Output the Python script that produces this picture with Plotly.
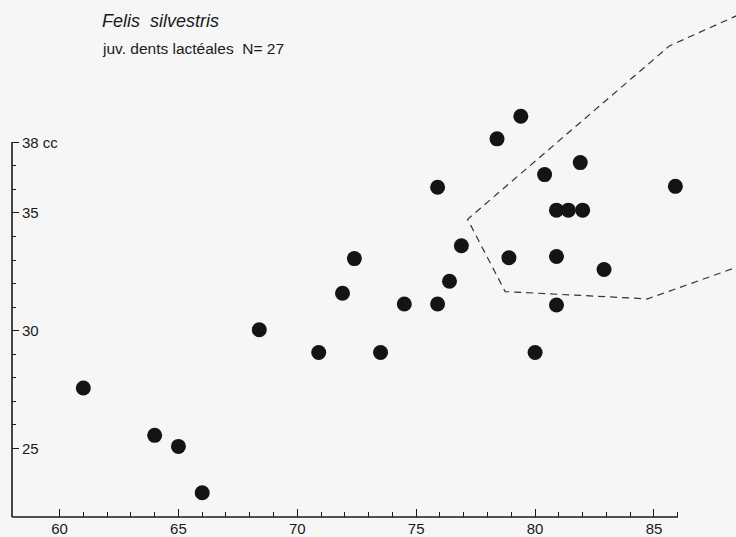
import plotly.graph_objects as go

# --- data ---
x_vals = [61.0, 64.0, 65.0, 66.0, 68.4, 70.9, 71.9, 72.4, 73.5, 74.5, 75.9, 75.9, 76.4, 76.9,
          78.4, 79.4, 78.9, 80.0, 80.4, 80.9, 81.4, 82.0, 80.9, 80.9, 81.9, 82.9, 85.9]
y_vals = [27.56, 25.55, 25.08, 23.11, 30.04, 29.07, 31.59, 33.06, 29.07, 31.13, 36.09, 31.13, 32.1, 33.61,
          38.15, 39.11, 33.1, 29.07, 36.63, 35.12, 35.12, 35.12, 33.15, 31.09, 37.14, 32.6, 36.13]

hull_x = [89.0, 85.65, 77.16, 78.74, 84.73, 89.0]
hull_y = [43.62, 42.1, 34.73, 31.66, 31.35, 32.88]

x_major = [60, 65, 70, 75, 80, 85]
x_minor = [61, 62, 63, 64, 66, 67, 68, 69, 71, 72, 73, 74, 76, 77, 78, 79, 81, 82, 83, 84, 86]
y_major = [25, 30, 35, 38]
y_major_text = ["25", "30", "35", "38 cc"]
y_minor = [26, 27, 28, 29, 31, 32, 33, 34, 36, 37]

x_range = [58.0, 88.45]
y_range = [22.08, 44.05]
x_axis_end = 86
y_axis_end = 38

title = "<i>Felis  silvestris</i>"
subtitle = "juv. dents lactéales  N= 27"

bg = "#f6f6f6"
ink = "#1a1a1a"
font = "Liberation Sans"

fig = go.Figure()
fig.add_trace(go.Scatter(x=hull_x, y=hull_y, mode="lines",
                         line=dict(color="#333333", width=1.2, dash="7px,5px"),
                         hoverinfo="skip", showlegend=False))
fig.add_trace(go.Scatter(x=x_vals, y=y_vals, mode="markers",
                         marker=dict(size=15, color="#141414", line=dict(width=0)),
                         cliponaxis=False, showlegend=False))

fx = (x_axis_end - x_range[0]) / (x_range[1] - x_range[0])
fy = (y_axis_end - y_range[0]) / (y_range[1] - y_range[0])
shapes = [
    dict(type="line", xref="paper", yref="paper", x0=0, x1=fx, y0=0, y1=0,
         line=dict(color=ink, width=1.6)),
    dict(type="line", xref="paper", yref="paper", x0=0, x1=0, y0=0, y1=fy,
         line=dict(color=ink, width=1.6)),
]

plot_h = 537 - 14

fig.update_layout(
    width=736, height=537,
    margin=dict(l=12, r=0, t=0, b=14),
    paper_bgcolor=bg, plot_bgcolor=bg,
    font=dict(family=font, color=ink, size=15),
    shapes=shapes,
    xaxis=dict(range=x_range, showgrid=False, zeroline=False, showline=False,
               tickmode="array", tickvals=x_major, ticks="inside", ticklen=8,
               tickwidth=1.2, tickcolor=ink, tickfont=dict(size=15, family=font, color=ink),
               ticklabelstandoff=1,
               minor=dict(tickmode="array", tickvals=x_minor, ticks="inside", ticklen=5,
                          tickwidth=1.1, tickcolor=ink, showgrid=False)),
    yaxis=dict(range=y_range, showgrid=False, zeroline=False, showline=False,
               tickmode="array", tickvals=y_major, ticktext=y_major_text,
               ticks="inside", ticklen=7, tickwidth=1.2, tickcolor=ink,
               ticklabelposition="inside", ticklabelstandoff=3,
               tickfont=dict(size=15, family=font, color=ink),
               minor=dict(tickmode="array", tickvals=y_minor, ticks="inside", ticklen=4,
                          tickwidth=1.1, tickcolor=ink, showgrid=False)),
    annotations=[
        dict(text=title, xref="paper", yref="paper", x=(100 - 12) / 724, y=(plot_h - 21) / plot_h,
             xanchor="left", yanchor="middle", showarrow=False,
             font=dict(size=18, family=font, color=ink)),
        dict(text=subtitle, xref="paper", yref="paper", x=(100 - 12) / 724, y=(plot_h - 49) / plot_h,
             xanchor="left", yanchor="middle", showarrow=False,
             font=dict(size=15.5, family=font, color=ink)),
    ],
)

fig.write_html("out.html", config={"displayModeBar": False},
               post_script="document.body.style.margin='0';document.body.style.padding='0';")
